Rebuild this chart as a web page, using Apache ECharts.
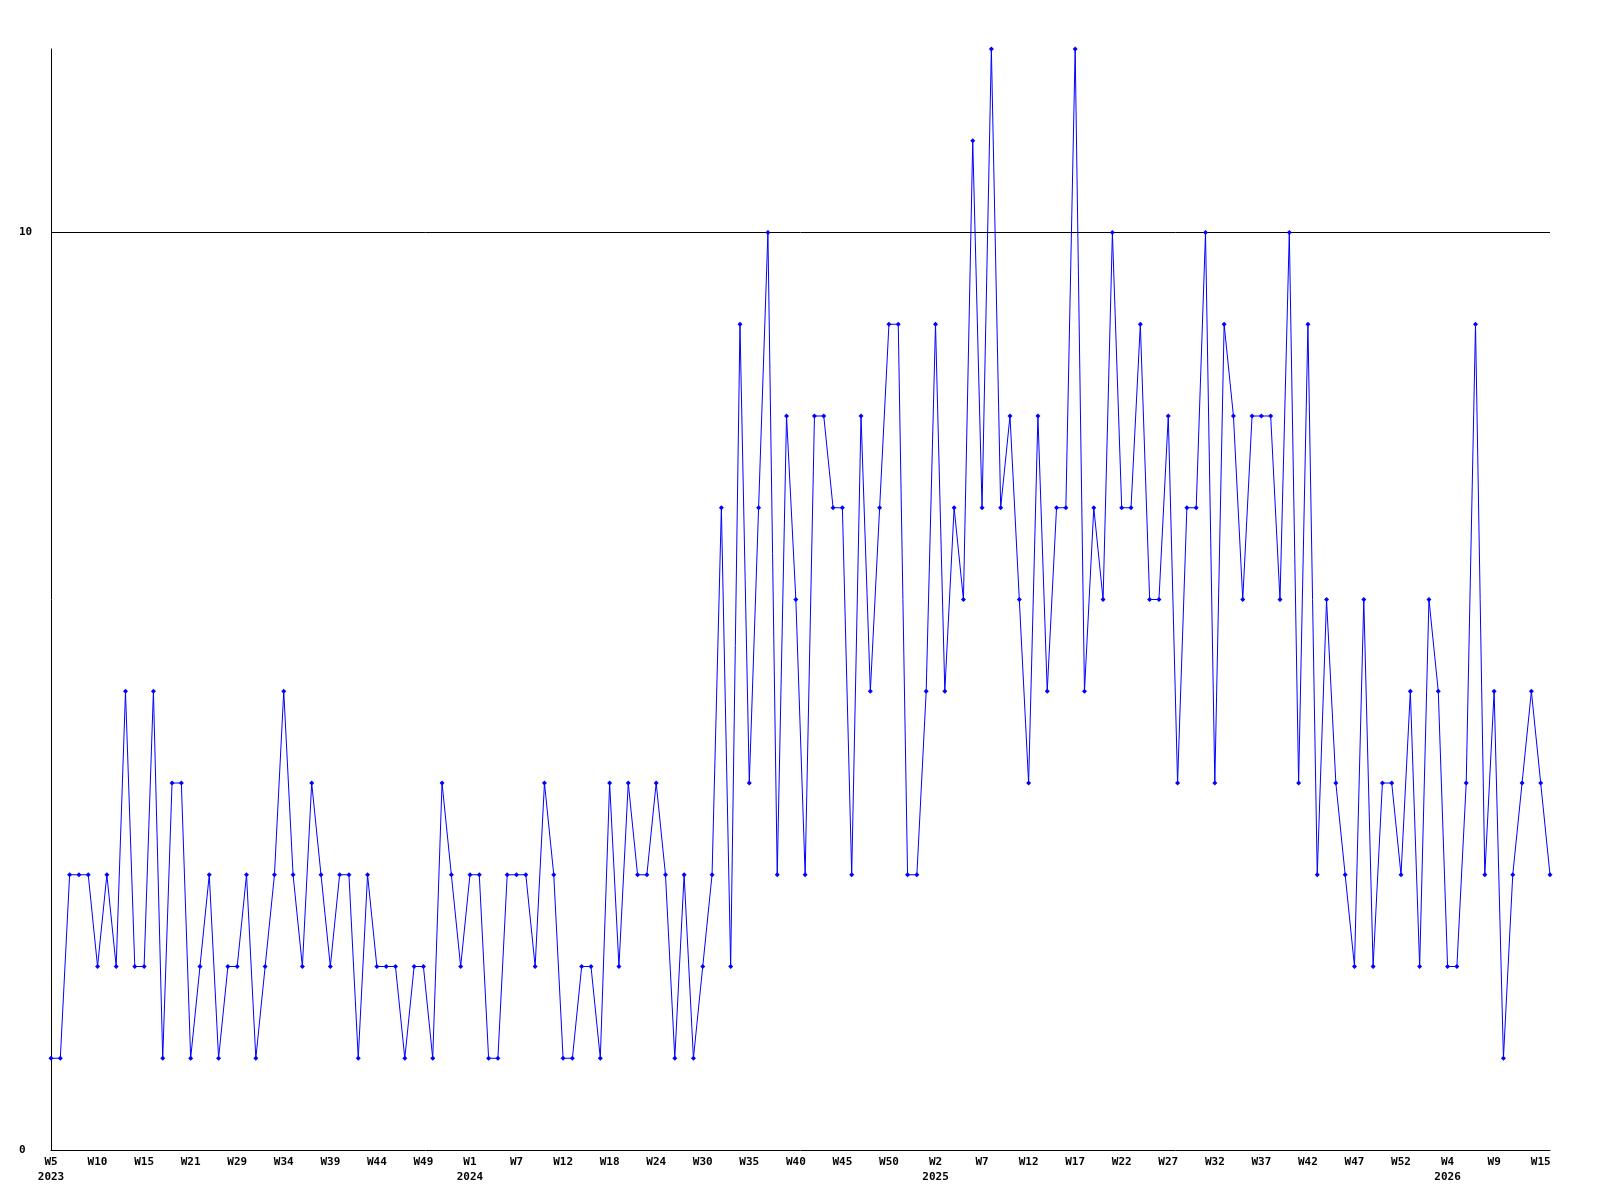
<!DOCTYPE html>
<html>
<head>
<meta charset="utf-8">
<script src="https://cdn.jsdelivr.net/npm/echarts@6/dist/echarts.min.js"></script>
<style>
  html, body { margin: 0; padding: 0; background: #ffffff; }
  #chart { width: 1600px; height: 1200px; }
</style>
</head>
<body>
<div id="chart"></div>
<script>
// Week categories (year-week), one per data point
const weeks = [
  "2023-W05","2023-W06","2023-W07","2023-W08","2023-W09",
  "2023-W10","2023-W11","2023-W12","2023-W13","2023-W14",
  "2023-W15","2023-W16","2023-W17","2023-W18","2023-W19",
  "2023-W21","2023-W22","2023-W23","2023-W24","2023-W25",
  "2023-W29","2023-W30","2023-W31","2023-W32","2023-W33",
  "2023-W34","2023-W35","2023-W36","2023-W37","2023-W38",
  "2023-W39","2023-W40","2023-W41","2023-W42","2023-W43",
  "2023-W44","2023-W45","2023-W46","2023-W47","2023-W48",
  "2023-W49","2023-W50","2023-W51","2023-W52","2023-W53",
  "2024-W01","2024-W02","2024-W03","2024-W04","2024-W05",
  "2024-W07","2024-W08","2024-W09","2024-W10","2024-W11",
  "2024-W12","2024-W13","2024-W14","2024-W15","2024-W16",
  "2024-W18","2024-W19","2024-W20","2024-W21","2024-W22",
  "2024-W24","2024-W25","2024-W26","2024-W27","2024-W28",
  "2024-W30","2024-W31","2024-W32","2024-W33","2024-W34",
  "2024-W35","2024-W36","2024-W37","2024-W38","2024-W39",
  "2024-W40","2024-W41","2024-W42","2024-W43","2024-W44",
  "2024-W45","2024-W46","2024-W47","2024-W48","2024-W49",
  "2024-W50","2024-W51","2024-W52","2024-W53","2025-W01",
  "2025-W02","2025-W03","2025-W04","2025-W05","2025-W06",
  "2025-W07","2025-W08","2025-W09","2025-W10","2025-W11",
  "2025-W12","2025-W13","2025-W14","2025-W15","2025-W16",
  "2025-W17","2025-W18","2025-W19","2025-W20","2025-W21",
  "2025-W22","2025-W23","2025-W24","2025-W25","2025-W26",
  "2025-W27","2025-W28","2025-W29","2025-W30","2025-W31",
  "2025-W32","2025-W33","2025-W34","2025-W35","2025-W36",
  "2025-W37","2025-W38","2025-W39","2025-W40","2025-W41",
  "2025-W42","2025-W43","2025-W44","2025-W45","2025-W46",
  "2025-W47","2025-W48","2025-W49","2025-W50","2025-W51",
  "2025-W52","2025-W53","2026-W01","2026-W02","2026-W03",
  "2026-W04","2026-W05","2026-W06","2026-W07","2026-W08",
  "2026-W09","2026-W10","2026-W11","2026-W12","2026-W13",
  "2026-W15","2026-W16"
];

// Weekly counts
const counts = [
  1,1,3,3,3,2,3,2,5,2,
  2,5,1,4,4,1,2,3,1,2,
  2,3,1,2,3,5,3,2,4,3,
  2,3,3,1,3,2,2,2,1,2,
  2,1,4,3,2,3,3,1,1,3,
  3,3,2,4,3,1,1,2,2,1,
  4,2,4,3,3,4,3,1,3,1,
  2,3,7,2,9,4,7,10,3,8,
  6,3,8,8,7,7,3,8,5,7,
  9,9,3,3,5,9,5,7,6,11,
  7,12,7,8,6,4,8,5,7,7,
  12,5,7,6,10,7,7,9,6,6,
  8,4,7,7,10,4,9,8,6,8,
  8,8,6,10,4,9,3,6,4,3,
  2,6,2,4,4,3,5,2,6,5,
  2,2,4,9,3,5,1,3,4,5,
  4,3
];

// Y tick labels shown
const yTicks = [0, 10];
const labelEvery = 5;

// first labelled index of each year gets the year underneath
const firstLabelOfYear = {};
weeks.forEach((w, i) => {
  if (i % labelEvery !== 0) return;
  const y = w.slice(0, 4);
  if (!(y in firstLabelOfYear)) firstLabelOfYear[y] = i;
});

const chart = echarts.init(document.getElementById('chart'), null, { renderer: 'canvas' });
const font = '"DejaVu Sans Mono", "Liberation Mono", monospace';

chart.setOption({
  animation: false,
  backgroundColor: '#ffffff',
  grid: { left: 51, right: 50, top: 49, bottom: 50, containLabel: false },
  xAxis: {
    type: 'category',
    data: weeks,
    boundaryGap: false,
    axisLine: { show: true, lineStyle: { color: '#000000', width: 1 } },
    axisTick: { show: false },
    splitLine: { show: false },
    axisLabel: {
      interval: (idx) => idx % labelEvery === 0,
      margin: 5,
      color: '#000000',
      fontFamily: font,
      fontSize: 11,
      fontWeight: 'bold',
      lineHeight: 15,
      formatter: (val, idx) => {
        const y = val.slice(0, 4);
        const n = parseInt(val.slice(6), 10);
        let s = 'W' + n;
        if (firstLabelOfYear[y] === idx) s += '\n' + y;
        return s;
      }
    }
  },
  yAxis: {
    type: 'value',
    min: 0,
    max: 12,
    interval: 10,
    axisLine: { show: true, lineStyle: { color: '#000000', width: 1 } },
    axisTick: { show: false },
    splitLine: { show: true, showMinLine: false, showMaxLine: false, lineStyle: { color: '#000000', width: 1 } },
    axisLabel: {
      showMaxLabel: false,
      margin: 32,
      align: 'left',
      color: '#000000',
      fontFamily: font,
      fontSize: 11,
      fontWeight: 'bold',
      formatter: (v) => (yTicks.indexOf(v) >= 0 ? String(v) : '')
    }
  },
  series: [{
    type: 'line',
    data: counts,
    symbol: 'diamond',
    symbolSize: 5,
    showAllSymbol: true,
    lineStyle: { color: '#0000ff', width: 1 },
    itemStyle: { color: '#0000ff' },
    emphasis: { disabled: true }
  }]
});
</script>
</body>
</html>
